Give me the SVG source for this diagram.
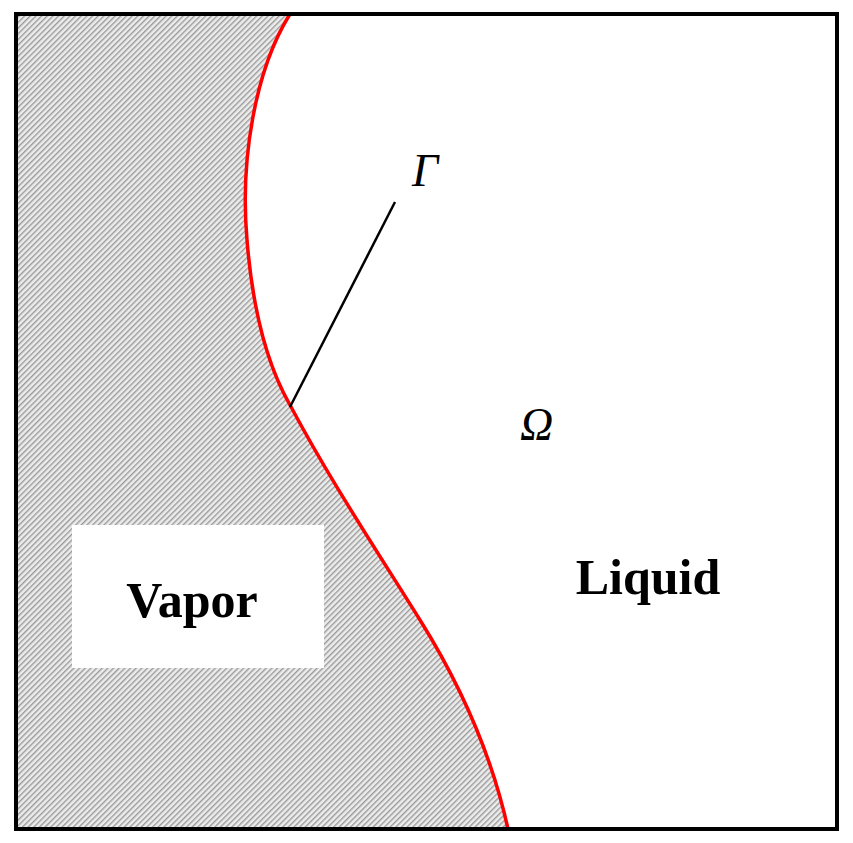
<svg xmlns="http://www.w3.org/2000/svg" width="853" height="843" viewBox="0 0 853 843">
<defs>
<pattern id="hatch" width="4" height="4" patternUnits="userSpaceOnUse" patternTransform="rotate(45)">
<rect width="4" height="4" fill="#ececec"/>
<rect width="1.4" height="4" fill="#9a9a9a"/>
</pattern>
</defs>
<style>
.lbl{font-family:"Liberation Serif",serif;font-weight:bold;font-size:50px;fill:#000}
.sym{font-family:"Liberation Serif",serif;font-style:italic;font-size:46px;fill:#000}
</style>
<rect x="0" y="0" width="853" height="843" fill="#fff"/>
<g id="vapor-region">
<path d="M16,14 L290,14 C255,70 240,160 247,240 C253,315 270,370 290,405 C330,480 370,540 420,620 C470,700 495,770 508,829 L16,829 Z" fill="url(#hatch)"/>
</g>
<g id="vapor-label">
<rect x="72" y="525" width="252" height="143" fill="#fff"/>
<text class="lbl" x="192" y="617" text-anchor="middle">Vapor</text>
</g>
<g id="interface">
<path d="M290,14 C255,70 240,160 247,240 C253,315 270,370 290,405 C330,480 370,540 420,620 C470,700 495,770 508,829" fill="none" stroke="#ff0000" stroke-width="3.5"/>
</g>
<g id="connectors">
<line x1="290" y1="407" x2="395" y2="202" stroke="#000" stroke-width="2.5"/>
</g>
<g id="gamma"><text class="sym" x="412" y="186">Γ</text></g>
<g id="omega"><text class="sym" x="520" y="440">Ω</text></g>
<g id="liquid"><text class="lbl" x="648" y="594" text-anchor="middle">Liquid</text></g>
<rect x="16" y="14" width="821" height="815" fill="none" stroke="#000" stroke-width="4"/>
</svg>
